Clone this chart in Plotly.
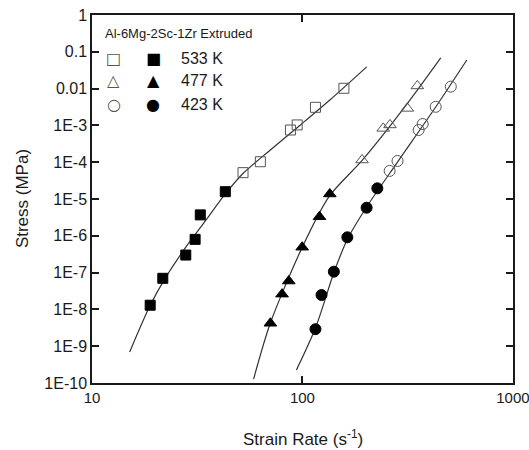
import math
import plotly.graph_objects as go

# Al-6Mg-2Sc-1Zr extruded: strain rate vs stress at three temperatures
t533_filled_x = [18.9, 21.7, 27.9, 30.9, 32.7, 43.0]
t533_filled_y = [1.3e-8, 7.0e-8, 3.0e-7, 8.0e-7, 3.7e-6, 1.58e-5]
t533_open_x = [52.2, 63.1, 87.7, 94.4, 115.3, 157.4]
t533_open_y = [5.2e-5, 1.03e-4, 7.5e-4, 1.03e-3, 3.1e-3, 1.02e-2]

t477_filled_x = [70.4, 80.0, 86.1, 99.7, 120.5, 134.9]
t477_filled_y = [4.2e-9, 2.6e-8, 5.9e-8, 4.9e-7, 3.3e-6, 1.37e-5]
t477_open_x = [192, 242, 260.6, 315, 351.6]
t477_open_y = [1.15e-4, 8.3e-4, 1.03e-3, 2.9e-3, 1.18e-2]

t423_filled_x = [115.3, 123.2, 141, 163.4, 201.8, 226.9]
t423_filled_y = [2.9e-9, 2.46e-8, 1.06e-7, 9.1e-7, 5.8e-6, 1.95e-5]
t423_open_x = [259.6, 283, 356.6, 372.6, 429.7, 506.9]
t423_open_y = [5.8e-5, 1.08e-4, 7.5e-4, 1.09e-3, 3.2e-3, 1.13e-2]

# fitted curves
fit533_x = [15.1, 18.9, 22.3, 27.7, 34.5, 43.0, 52.3, 70.4, 97.8, 135.8, 202]
fit533_y = [7.0e-10, 1.3e-8, 7.1e-8, 4.6e-7, 2.5e-6, 1.37e-5, 5.0e-5, 2.15e-4, 1.03e-3, 5.06e-3, 3.9e-2]
fit477_x = [58.6, 70.4, 100, 134.5, 193.1, 309, 454]
fit477_y = [1.28e-10, 4.27e-9, 5.0e-7, 1.21e-5, 1.15e-4, 3.37e-3, 6.8e-2]
fit423_x = [93.6, 115.3, 141.9, 163.8, 201.8, 283, 429.7, 604]
fit423_y = [2.25e-10, 3.12e-9, 1.10e-7, 8.2e-7, 6.06e-6, 1.01e-4, 3.16e-3, 5.98e-2]

temps = ["533 K", "477 K", "423 K"]
x_ticks = [10, 100, 1000]
x_ticktext = ["10", "100", "1000"]
y_ticks = [10.0 ** k for k in range(-10, 1)]
y_ticktext = ["1E-10", "1E-9", "1E-8", "1E-7", "1E-6", "1E-5", "1E-4", "1E-3", "0.01", "0.1", "1"]

x_minor = [m * 10.0 ** k for k in (1, 2) for m in range(2, 10)]
y_minor = [m * 10.0 ** k for k in range(-10, 0) for m in range(2, 10)]

X_RANGE = [1, 3.0005]
Y_RANGE = [-10, 0]

FONT = "Liberation Sans, Arial, sans-serif"
INK = "#1a1a1a"
OPEN_INK = "#555555"

fig = go.Figure()

for fx, fy in [(fit533_x, fit533_y), (fit477_x, fit477_y), (fit423_x, fit423_y)]:
    fig.add_trace(go.Scatter(x=fx, y=fy, mode="lines",
                             line=dict(color="#333333", width=1.2, shape="spline", smoothing=0.8),
                             hoverinfo="skip"))

series = [
    (t533_filled_x, t533_filled_y, "square", 10),
    (t533_open_x, t533_open_y, "square-open", 10),
    (t477_filled_x, t477_filled_y, "triangle-up", 11),
    (t477_open_x, t477_open_y, "triangle-up-open", 11),
    (t423_filled_x, t423_filled_y, "circle", 11),
    (t423_open_x, t423_open_y, "circle-open", 11),
]
for sx, sy, sym, sz in series:
    opened = sym.endswith("open")
    fig.add_trace(go.Scatter(
        x=sx, y=sy, mode="markers",
        marker=dict(symbol=sym, size=sz, color=OPEN_INK if opened else "black",
                    line=dict(width=1, color=OPEN_INK if opened else "black")),
    ))

major = dict(
    type="log", showgrid=False, zeroline=False, automargin=False,
    showline=True, linecolor=INK, linewidth=1.5, mirror="ticks",
    ticks="inside", ticklen=7, tickwidth=1.5, tickcolor=INK,
    tickmode="array", ticklabeloverflow="allow",
)
fig.update_xaxes(range=X_RANGE, tickvals=x_ticks, ticktext=x_ticktext,
                 tickfont=dict(family=FONT, size=15, color=INK), **major)
fig.update_yaxes(range=Y_RANGE, tickvals=y_ticks, ticktext=y_ticktext,
                 tickfont=dict(family=FONT, size=16, color=INK), **major)

# short inside minor ticks on all four sides of the frame (log axes take log10 positions)
MINOR_LEN = 4
tick_line = dict(color=INK, width=1.2)
shapes = []
for v in x_minor:
    lv = math.log10(v)
    shapes.append(dict(type="line", xref="x", yref="paper", x0=lv, x1=lv,
                       y0=0, y1=MINOR_LEN / 368, line=tick_line, layer="above"))
    shapes.append(dict(type="line", xref="x", yref="paper", x0=lv, x1=lv,
                       y0=1, y1=1 - MINOR_LEN / 368, line=tick_line, layer="above"))
for v in y_minor:
    lv = math.log10(v)
    shapes.append(dict(type="line", yref="y", xref="paper", y0=lv, y1=lv,
                       x0=0, x1=MINOR_LEN / 421, line=tick_line, layer="above"))
    shapes.append(dict(type="line", yref="y", xref="paper", y0=lv, y1=lv,
                       x0=1, x1=1 - MINOR_LEN / 421, line=tick_line, layer="above"))

annotations = [
    dict(text="Strain Rate (s<sup>-1</sup>)", x=0.5, y=-0.15, xref="paper", yref="paper",
         xanchor="center", yanchor="middle", showarrow=False,
         font=dict(family=FONT, size=17, color=INK)),
    dict(text="Stress (MPa)", x=-0.166, y=0.5, xref="paper", yref="paper", textangle=-90,
         xanchor="center", yanchor="middle", showarrow=False,
         font=dict(family=FONT, size=17, color=INK)),
    dict(text="Al-6Mg-2Sc-1Zr Extruded", x=0.026, y=0.951, xref="paper", yref="paper",
         xanchor="left", yanchor="middle", showarrow=False,
         font=dict(family=FONT, size=13, color=INK)),
]

key_rows = [0.883, 0.821, 0.758]
key_open = ["□", "△", "○"]
key_filled = ["■", "▲", "●"]
for row_y, label, o, f in zip(key_rows, temps, key_open, key_filled):
    annotations.append(dict(text=o, x=0.052, y=row_y, xref="paper", yref="paper",
                            xanchor="center", yanchor="middle", showarrow=False,
                            font=dict(family="DejaVu Sans", size=16, color=OPEN_INK)))
    annotations.append(dict(text=f, x=0.145, y=row_y, xref="paper", yref="paper",
                            xanchor="center", yanchor="middle", showarrow=False,
                            font=dict(family="DejaVu Sans", size=16, color="black")))
    annotations.append(dict(text=label, x=0.207, y=row_y, xref="paper", yref="paper",
                            xanchor="left", yanchor="middle", showarrow=False,
                            font=dict(family=FONT, size=16, color=INK)))

fig.update_layout(
    width=529, height=450,
    margin=dict(l=92, r=16, t=15, b=67, autoexpand=False),
    paper_bgcolor="white", plot_bgcolor="white",
    showlegend=False,
    annotations=annotations,
    shapes=shapes,
)

fig.write_html("out.html")
